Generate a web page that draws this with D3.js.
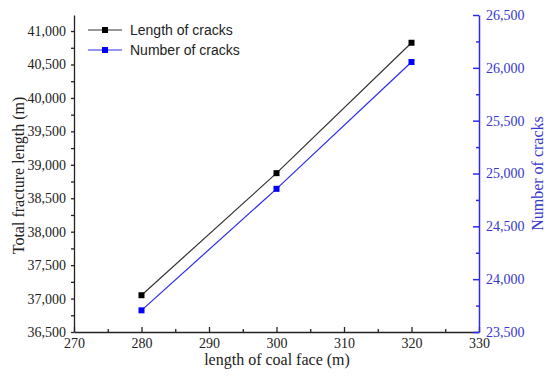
<!DOCTYPE html>
<html><head><meta charset="utf-8">
<script src="https://cdn.jsdelivr.net/npm/d3@7"></script>
<style>body{margin:0;background:#fff}svg{display:block}</style>
</head><body>
<svg id="c" width="550" height="385"></svg>
<script>
const faceLength = [280, 300, 320];
const crackLength = [37050, 38875, 40825];
const crackNumber = [23705, 24855, 26055];
const xTicks = [270, 280, 290, 300, 310, 320, 330];
const leftTicks = [36500, 37000, 37500, 38000, 38500, 39000, 39500, 40000, 40500, 41000];
const rightTicks = [23500, 24000, 24500, 25000, 25500, 26000, 26500];
const seriesNames = ["Length of cracks", "Number of cracks"];

const svg = d3.select("#c");
const L = 74, R = 479, T = 15, B = 332;
const BLUE = "#2a2af0", BLUE_TXT = "#3535d0", DARK = "#222";
const SERIF = '"Liberation Serif","Times New Roman",Times,serif';

const x = d3.scaleLinear().domain([270, 330]).range([L, R]);
const yL = d3.scaleLinear().domain([36500, 41240]).range([B, T]);
const yR = d3.scaleLinear().domain([23500, 26500]).range([B, T]);
const fmt = d3.format(",");

const xMinor = d3.range(275, 330, 10);
const lMinor = d3.range(36750, 41250, 500);
const rMinor = d3.range(23750, 26500, 500);

// bottom axis
const gx = svg.append("g").attr("transform", `translate(0,${B})`)
  .call(d3.axisBottom(x).tickValues(xTicks).tickFormat(d3.format("d")).tickSize(-5).tickSizeOuter(0).tickPadding(6));
const gxm = svg.append("g").attr("transform", `translate(0,${B})`)
  .call(d3.axisBottom(x).tickValues(xMinor).tickFormat("").tickSize(-3).tickSizeOuter(0));
gxm.select(".domain").remove();

// left axis
const gl = svg.append("g").attr("transform", `translate(${L},0)`)
  .call(d3.axisLeft(yL).tickValues(leftTicks).tickFormat(fmt).tickSize(3).tickSizeOuter(0).tickPadding(5));
const glm = svg.append("g").attr("transform", `translate(${L},0)`)
  .call(d3.axisLeft(yL).tickValues(lMinor).tickFormat("").tickSize(3).tickSizeOuter(0));
glm.select(".domain").remove();

// right axis
const gr = svg.append("g").attr("transform", `translate(${R},0)`)
  .call(d3.axisRight(yR).tickValues(rightTicks).tickFormat(fmt).tickSize(-6).tickSizeOuter(0).tickPadding(7));
const grm = svg.append("g").attr("transform", `translate(${R},0)`)
  .call(d3.axisRight(yR).tickValues(rMinor).tickFormat("").tickSize(-3).tickSizeOuter(0));
grm.select(".domain").remove();

[gx, gl, gr, gxm, glm, grm].forEach(g => g.attr("font-family", null).attr("font-size", null));
svg.selectAll(".tick text").style("font-family", SERIF).style("font-size", "14px").attr("fill", "#222");
[gx, gl, gxm, glm].forEach(g => { g.selectAll("line,path").attr("stroke", DARK).attr("stroke-width", 1.3); });
[gr, grm].forEach(g => { g.selectAll("line,path").attr("stroke", BLUE).attr("stroke-width", 1.5); });
gr.selectAll(".tick text").attr("fill", BLUE_TXT);

// series
const d1 = faceLength.map((v, i) => [v, crackLength[i]]);
const d2 = faceLength.map((v, i) => [v, crackNumber[i]]);
svg.append("path").datum(d1).attr("fill","none").attr("stroke","#333").attr("stroke-width",1.2)
  .attr("d", d3.line().x(d => x(d[0])).y(d => yL(d[1])));
svg.append("path").datum(d2).attr("fill","none").attr("stroke",BLUE).attr("stroke-width",1.2)
  .attr("d", d3.line().x(d => x(d[0])).y(d => yR(d[1])));
const s = 6;
svg.selectAll(".m1").data(d1).join("rect").attr("x", d => x(d[0]) - s/2).attr("y", d => yL(d[1]) - s/2)
  .attr("width", s).attr("height", s).attr("fill", "#000");
svg.selectAll(".m2").data(d2).join("rect").attr("x", d => x(d[0]) - s/2).attr("y", d => yR(d[1]) - s/2)
  .attr("width", s).attr("height", s).attr("fill", "#0000ff");

// legend
const lg = svg.append("g");
[[ "#333", "#000", 30 ], [ BLUE, "#0000ff", 50 ]].forEach((c, i) => {
  lg.append("line").attr("x1", 88).attr("x2", 122).attr("y1", c[2]).attr("y2", c[2]).attr("stroke", c[0]).attr("stroke-width", 1.2);
  lg.append("rect").attr("x", 105 - 3).attr("y", c[2] - 3).attr("width", 6).attr("height", 6).attr("fill", c[1]);
  lg.append("text").attr("x", 130).attr("y", c[2]).attr("dy", "0.35em")
    .style("font-family", '"Liberation Sans",Arial,sans-serif').style("font-size", "14px").attr("fill", "#222")
    .text(seriesNames[i]);
});

// titles
svg.append("text").attr("transform", `translate(18,${(T+B)/2 + 2}) rotate(-90)`).attr("text-anchor","middle").attr("dy","0.35em")
  .style("font-family", SERIF).style("font-size", "16px").attr("fill", "#222").text("Total fracture length (m)");
svg.append("text").attr("transform", `translate(537,${(T+B)/2}) rotate(-90)`).attr("text-anchor","middle").attr("dy","0.35em")
  .style("font-family", SERIF).style("font-size", "16px").attr("fill", BLUE_TXT).text("Number of cracks");
svg.append("text").attr("x", 277).attr("y", 365).attr("text-anchor","middle")
  .style("font-family", SERIF).style("font-size", "16px").attr("fill", "#222").text("length of coal face (m)");
</script>
</body></html>
